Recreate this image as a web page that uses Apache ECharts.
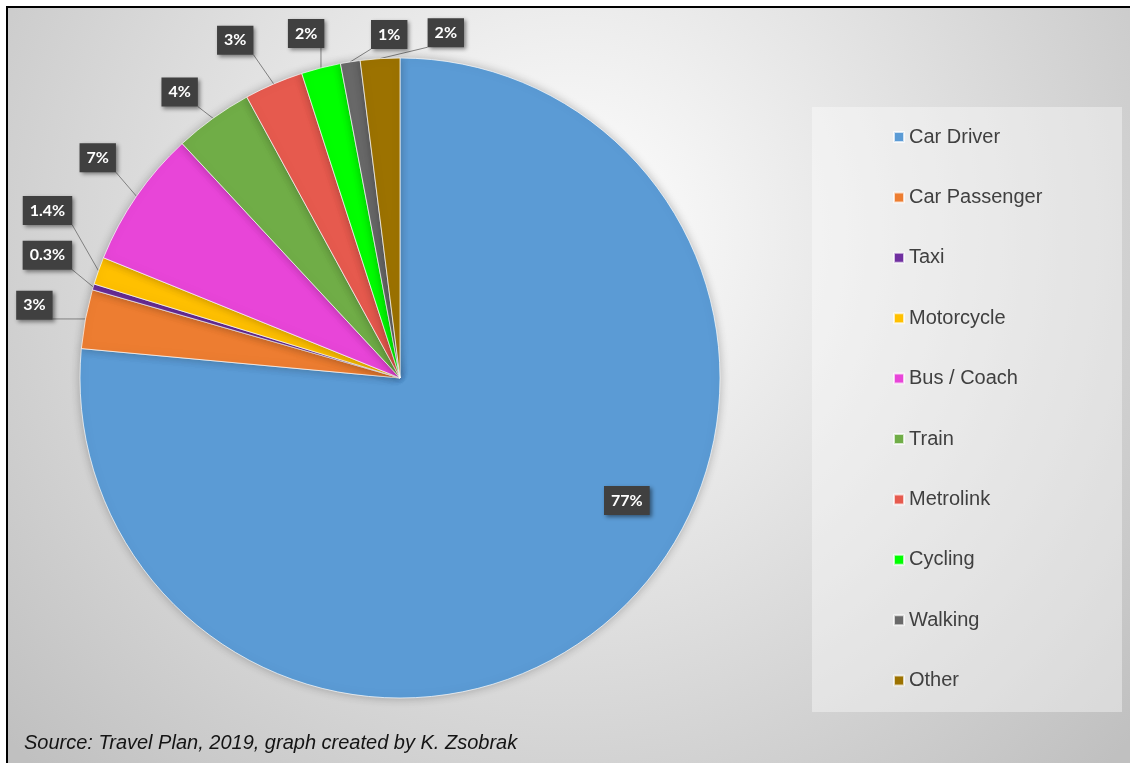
<!DOCTYPE html>
<html>
<head>
<meta charset="utf-8">
<title>Travel modes</title>
<script src="https://cdn.jsdelivr.net/npm/echarts@6/dist/echarts.min.js"></script>
<style>
  html, body { margin: 0; padding: 0; background: #fff; overflow: hidden; }
  #frame { position: absolute; left: 6px; top: 6px; width: 1122px; height: 755px;
           border-top: 2px solid #000; border-left: 2px solid #000; }
  #main { width: 1122px; height: 755px; }
</style>
</head>
<body>
<div id="frame"><div id="main"></div></div>
<script>
var modes = ["Car Driver", "Car Passenger", "Taxi", "Motorcycle", "Bus / Coach",
  "Train", "Metrolink", "Cycling", "Walking", "Other"];
var shares = [77, 3, 0.3, 1.4, 7, 4, 3, 2, 1, 2];
var sliceColors = ["#5b9bd5", "#ed7d31", "#7030a0", "#ffc000", "#e845d8",
  "#70ad47", "#e65a4e", "#00ff00", "#696969", "#9c7200"];

var chart = echarts.init(document.getElementById("main"));

// pie geometry (container pixels)
var cx = 392, cy = 370, R = 320;
var total = shares.reduce(function (a, b) { return a + b; }, 0);
var mids = [];
var acc = 0;
shares.forEach(function (v) {
  mids.push((acc + v / 2) / total * 2 * Math.PI);
  acc += v;
});
// small shifts so labels sit where excel put them
var labelNudge = [[117, 2], [0, -4], [4, -17], [-2, -43], [4, -9],
  [-3, 16], [-18, 4], [-2, 16], [47, 24], [69, 26]];

function clamp(v, lo, hi) { return Math.max(lo, Math.min(hi, v)); }

var pieData = modes.map(function (m, i) {
  var item = { name: m, value: shares[i], itemStyle: { color: sliceColors[i] } };
  if (i === 0) {
    item.label = { position: "inside" };
    item.labelLine = { show: false };
  }
  return item;
});

var option = {
  animation: false,
  backgroundColor: {
    type: "radial", x: 0.5, y: 0.3, r: 1,
    colorStops: [{ offset: 0, color: "#ffffff" }, { offset: 1, color: "#c0c0c0" }]
  },
  title: {
    text: "Source: Travel Plan, 2019, graph created by K. Zsobrak",
    left: 16, top: 725, padding: 0,
    textStyle: { fontStyle: "italic", fontWeight: "normal", fontSize: 20,
      color: "#141414", fontFamily: "Liberation Sans, Arial, sans-serif" }
  },
  graphic: [{
    type: "rect", left: 804, top: 99, z: 0, silent: true,
    shape: { width: 310, height: 605 },
    style: { fill: "rgba(255,255,255,0.38)" }
  }],
  legend: {
    orient: "vertical", left: 885, top: 119, padding: 0,
    itemWidth: 10, itemHeight: 10, itemGap: 40.4, icon: "rect",
    selectedMode: false,
    textStyle: { fontSize: 20, color: "#404040", fontFamily: "Liberation Sans, Arial, sans-serif" },
    data: modes
  },
  series: [{
    type: "pie",
    center: [cx, cy],
    radius: R,
    startAngle: 90,
    clockwise: true,
    avoidLabelOverlap: false,
    emphasis: { disabled: true },
    itemStyle: {
      borderColor: "rgba(255,255,255,0.7)", borderWidth: 1,
      shadowBlur: 10, shadowColor: "rgba(0,0,0,0.25)"
    },
    label: {
      position: "outside",
      formatter: "{c}%",
      color: "#fff",
      fontWeight: "bold",
      fontSize: 16,
      fontFamily: "Lato, 'Open Sans', sans-serif",
      backgroundColor: "#404040",
      padding: [7, 7, 6, 7],
      shadowBlur: 4, shadowColor: "rgba(0,0,0,0.45)",
      shadowOffsetX: 2, shadowOffsetY: 2
    },
    labelLine: {
      show: true, length: 10, length2: 10,
      lineStyle: { color: "#808080", width: 1 }
    },
    labelLayout: function (p) {
      var i = p.dataIndex, n = labelNudge[i];
      if (i === 0) return { dx: n[0], dy: n[1] };
      var a = mids[i], d = R + 52;
      var lx = cx + d * Math.sin(a) + n[0];
      var ly = cy - d * Math.cos(a) + n[1];
      var w = p.labelRect.width, h = p.labelRect.height;
      // leader from the rim of the slice to the nearest point of the box
      var px = cx + R * Math.sin(a), py = cy - R * Math.cos(a);
      var qx = clamp(px, lx - w / 2, lx + w / 2);
      var qy = clamp(py, ly - h / 2, ly + h / 2);
      return {
        x: lx, y: ly,
        align: "center", verticalAlign: "middle",
        labelLinePoints: [[px, py], [qx, qy]]
      };
    },
    data: pieData
  }]
};

chart.setOption(option);
</script>
</body>
</html>
